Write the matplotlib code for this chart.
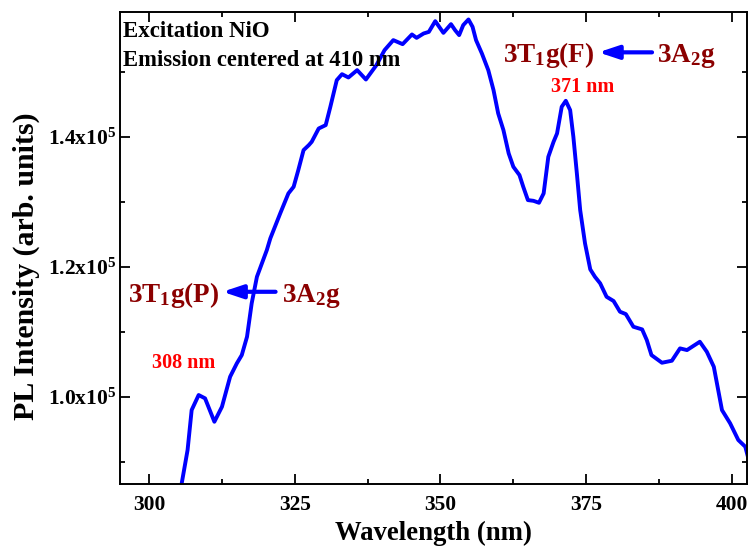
import matplotlib
matplotlib.use("Agg")
import matplotlib.pyplot as plt
from matplotlib.ticker import MultipleLocator, FuncFormatter

plt.rcParams['font.family'] = ['Liberation Serif', 'DejaVu Serif']
plt.rcParams['font.weight'] = 'bold'
plt.rcParams['mathtext.default'] = 'regular'

wavelength = [305.6, 306.6, 307.3, 308.5, 309.6, 311.2, 312.5, 313.9, 315.05, 315.9,
              316.8, 317.6, 318.5, 320.2, 320.8, 322.5, 323.9, 324.8, 325.6, 326.5,
              327.4, 327.9, 329.1, 330.3, 331.1, 332.2, 333.1, 334.2, 335.7, 337.2,
              339.0, 340.4, 341.9, 343.5, 345.1, 345.9, 347.1, 348.0, 349.1, 350.5,
              351.8, 352.5, 353.2, 353.9, 354.8, 355.5, 356.1, 357.1, 358.2, 359.1,
              359.9, 360.8, 361.7, 362.5, 363.55, 364.2, 365.0, 365.95, 366.9, 367.7,
              368.5, 369.4, 370.0, 370.8, 371.5, 372.25, 372.8, 373.4, 373.97, 374.8,
              375.7, 376.5, 377.4, 378.5, 379.7, 380.8, 381.8, 383.1, 384.6, 385.4,
              386.2, 388.0, 389.7, 391.1, 392.3, 394.5, 395.7, 396.9, 398.3, 399.7,
              401.1, 402.3, 402.9]
intensity = [86700, 91800, 97950, 100260, 99750, 96150, 98460, 103080, 105130, 106410,
             109230, 114370, 118460, 122570, 124370, 128220, 131290, 132310, 134880, 137950,
             138720, 139230, 141280, 141800, 144620, 148720, 149640, 149130, 150260, 148820,
             151030, 153340, 154880, 154260, 155750, 155230, 155900, 156150, 157800, 156000,
             157340, 156420, 155650, 157190, 158060, 156930, 154880, 152830, 150260, 147180,
             143600, 141030, 137450, 135390, 134110, 132310, 130260, 130150, 129850, 131290,
             136920, 139230, 140520, 144620, 145540, 144110, 140000, 134370, 128720, 123600,
             119600, 118460, 117450, 115380, 114730, 113080, 112720, 110770, 110360, 108720,
             106410, 105230, 105540, 107440, 107180, 108460, 106920, 104610, 97950, 95910,
             93340, 92310, 90260]

x_ticks = [300, 325, 350, 375, 400]
y_ticks = [100000, 120000, 140000]

fig = plt.figure(figsize=(7.48, 5.48), dpi=100)
ax = fig.add_axes([0.1604, 0.1168, 0.8383, 0.8612])
ax.plot(wavelength, intensity, color='#0000FF', lw=2.8, solid_joinstyle='round',
        solid_capstyle='round')

ax.set_xlim(295, 402.6)
ax.set_ylim(86570, 159200)
ax.set_xticks(x_ticks)
ax.set_yticks(y_ticks)
ax.xaxis.set_minor_locator(MultipleLocator(12.5))
ax.yaxis.set_minor_locator(MultipleLocator(10000))

def yfmt(v, pos):
    return r'%.1fx10$^{5}$' % (v / 1e5)
ax.yaxis.set_major_formatter(FuncFormatter(yfmt))

ax.tick_params(which='both', direction='in', top=True, right=True, width=1.3)
ax.tick_params(which='major', length=7, labelsize=15.5)
ax.tick_params(axis='x', which='major', pad=8)
ax.tick_params(axis='y', which='major', pad=3)
ax.tick_params(which='minor', length=3.5)
for s in ax.spines.values():
    s.set_linewidth(1.4)
for lab in ax.get_xticklabels() + ax.get_yticklabels():
    lab.set_fontweight('bold')

ax.set_xlabel('Wavelength (nm)', fontsize=19.3, fontweight='bold', labelpad=4)
fig.text(26 / 748, 1 - 266.5 / 548, 'PL Intensity (arb. units)', rotation=90,
         fontsize=21.5, fontweight='bold', ha='center', va='center')

ax.text(0.0048, 0.9464, 'Excitation NiO', transform=ax.transAxes,
        fontsize=16.5, fontweight='bold', va='baseline', ha='left')
ax.text(0.0048, 0.8864, 'Emission centered at 410 nm', transform=ax.transAxes,
        fontsize=16.3, fontweight='bold', va='baseline', ha='left')

dark = '#8B0000'
arrow_props = dict(arrowstyle='-|>,head_length=0.6,head_width=0.2', color='#0000FF',
                   lw=3, mutation_scale=20, shrinkA=0, shrinkB=0)
# 3T1g(P) annotation
ax.text(296.4, 114615, r'3T$_1$g(P)', fontsize=19.5, fontweight='bold', color=dark,
        va='baseline', ha='left')
ax.text(322.8, 114615, r'3A$_2$g', fontsize=19.5, fontweight='bold', color=dark,
        va='baseline', ha='left')
ax.annotate('', xy=(312.6, 116150), xytext=(321.7, 116150), arrowprops=arrow_props)
ax.text(300.5, 104370, '308 nm', fontsize=14.5, fontweight='bold', color='#FF0000',
        va='baseline', ha='left')

# 3T1g(F) annotation
ax.text(360.75, 151540, r'3T$_1$g(F)', fontsize=19.5, fontweight='bold', color=dark,
        va='baseline', ha='left')
ax.text(387.2, 151540, r'3A$_2$g', fontsize=19.5, fontweight='bold', color=dark,
        va='baseline', ha='left')
ax.annotate('', xy=(377.1, 153000), xytext=(386.3, 153000), arrowprops=arrow_props)
ax.text(369.0, 146920, '371 nm', fontsize=14.5, fontweight='bold', color='#FF0000',
        va='baseline', ha='left')

fig.savefig('out.png', dpi=100)
